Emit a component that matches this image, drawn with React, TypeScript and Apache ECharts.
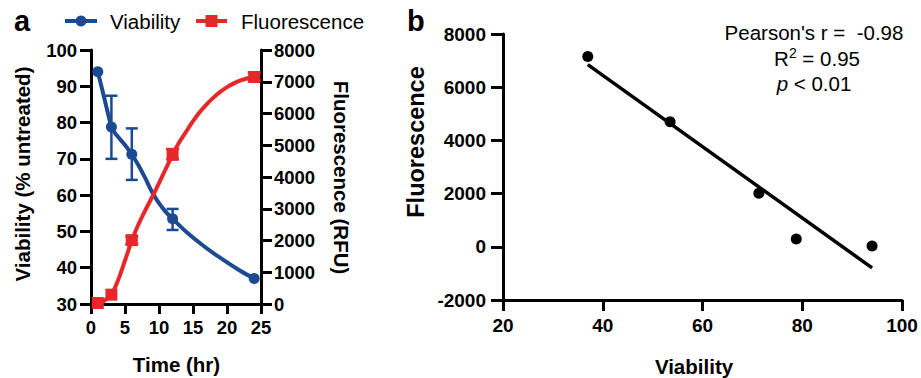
import React, { useEffect, useRef } from "react";
import * as echarts from "echarts";

const FONT = "'Liberation Sans', Arial, Helvetica, sans-serif";
const BLUE = "#1b4a92";
const RED = "#e6282b";

// Panel a: measured time course
const timeHours = [1, 3, 6, 12, 24];
const viability = [94, 78.8, 71.3, 53.5, 37];
const viabilityErrLow = [null, 70, 64.2, 50.4, null];
const viabilityErrHigh = [null, 87.4, 78.4, 56.2, null];
const fluorescence = [30, 293, 2011, 4700, 7150];
const fluorescenceErrLow = [null, null, 1890, 4560, 7040];
const fluorescenceErrHigh = [null, null, 2130, 4880, 7290];

// Panel a: fitted curves
const viabilityCurveT = [1, 1.5, 2, 2.5, 3, 3.5, 4, 5, 6, 7, 8, 9, 10, 11, 12, 14, 16, 18, 20, 22, 24];
const viabilityCurveV = [94, 90.2, 86.4, 82.5, 78.9, 77.2, 76.0, 73.8, 71.2, 68.2, 64.6, 60.8, 57.8, 55.4, 53.5, 49.9, 46.8, 44.0, 41.5, 39.1, 37];
const fluorCurveT = [1, 2, 3, 4, 5, 6, 7, 8, 9, 10, 11, 12, 13, 14, 15, 16, 17, 18, 19, 20, 21, 22, 23, 24];
const fluorCurveF = [20, 110, 300, 760, 1370, 2000, 2520, 2960, 3370, 3810, 4260, 4700, 5100, 5430, 5760, 6050, 6290, 6500, 6680, 6830, 6950, 7040, 7110, 7150];

const timeTicks = { min: 0, max: 25, interval: 5 };
const viabilityTicks = { min: 30, max: 100, interval: 10 };
const fluorTicks = { min: 0, max: 8000, interval: 1000 };

// Panel b: correlation
const corrXTicks = { min: 20, max: 100, interval: 20 };
const corrYTicks = { min: -2000, max: 8000, interval: 2000 };
const statsLines = ["Pearson's r =  -0.98", "0.95", "0.01"];
const legendNames = ["Viability", "Fluorescence"];

function linearFit(xs: number[], ys: number[]) {
  const n = xs.length;
  const mx = xs.reduce((a, b) => a + b, 0) / n;
  const my = ys.reduce((a, b) => a + b, 0) / n;
  let sxy = 0;
  let sxx = 0;
  for (let i = 0; i < n; i++) {
    sxy += (xs[i] - mx) * (ys[i] - my);
    sxx += (xs[i] - mx) * (xs[i] - mx);
  }
  const slope = sxy / sxx;
  return { slope, intercept: my - slope * mx };
}

function errorBarSeries(
  lows: (number | null)[],
  highs: (number | null)[],
  color: string,
  xAxisIndex: number,
  yAxisIndex: number,
  half: number
) {
  const data: number[][] = [];
  timeHours.forEach((t, i) => {
    const lo = lows[i];
    const hi = highs[i];
    if (lo != null && hi != null) data.push([t, lo, hi]);
  });
  return {
    type: "custom",
    xAxisIndex,
    yAxisIndex,
    z: 3,
    data,
    renderItem: (params: any, api: any) => {
      const x = api.value(0);
      const lo = api.coord([x, api.value(1)]);
      const hi = api.coord([x, api.value(2)]);
      const style = { stroke: color, lineWidth: 2.5, fill: null };
      return {
        type: "group",
        children: [
          { type: "line", shape: { x1: lo[0], y1: lo[1], x2: hi[0], y2: hi[1] }, style },
          { type: "line", shape: { x1: lo[0] - half, y1: lo[1], x2: lo[0] + half, y2: lo[1] }, style },
          { type: "line", shape: { x1: hi[0] - half, y1: hi[1], x2: hi[0] + half, y2: hi[1] }, style },
        ],
      };
    },
  };
}

function axisStyle(tickLen: number, margin: number, fontSize: number) {
  return {
    axisLine: { show: true, onZero: false, lineStyle: { color: "#000", width: 3 } },
    axisTick: { show: true, inside: false, length: tickLen, lineStyle: { color: "#000", width: 3 } },
    axisLabel: {
      margin,
      fontSize,
      fontWeight: "bold",
      color: "#000",
      fontFamily: FONT,
      formatter: (v: number) => String(v),
    },
    splitLine: { show: false },
  };
}

export default function App() {
  const ref = useRef<HTMLDivElement>(null);

  useEffect(() => {
    if (!ref.current) return;
    const chart = echarts.init(ref.current, undefined, { renderer: "svg" });

    const fit = linearFit(viability, fluorescence);
    const vMin = Math.min(...viability);
    const vMax = Math.max(...viability);
    const fitLine = [
      [vMin, fit.intercept + fit.slope * vMin],
      [vMax, fit.intercept + fit.slope * vMax],
    ];

    const text = (extra: any) => ({
      fill: "#000",
      fontFamily: FONT,
      ...extra,
    });

    const option: any = {
      animation: false,
      backgroundColor: "#fff",
      textStyle: { fontFamily: FONT },
      grid: [
        { left: 91, top: 50, width: 170, height: 254 },
        { left: 503, top: 34, width: 399, height: 266 },
      ],
      xAxis: [
        { gridIndex: 0, type: "value", ...timeTicks, ...axisStyle(10, 14, 18.5) },
        { gridIndex: 1, type: "value", ...corrXTicks, ...axisStyle(11, 16, 19) },
      ],
      yAxis: [
        { gridIndex: 0, type: "value", position: "left", ...viabilityTicks, ...axisStyle(11, 14, 18.5) },
        { gridIndex: 0, type: "value", position: "right", ...fluorTicks, ...axisStyle(11, 13, 18.5) },
        { gridIndex: 1, type: "value", position: "left", ...corrYTicks, ...axisStyle(12, 17, 19) },
      ],
      series: [
        errorBarSeries(viabilityErrLow, viabilityErrHigh, BLUE, 0, 0, 6),
        errorBarSeries(fluorescenceErrLow, fluorescenceErrHigh, RED, 0, 1, 6.5),
        {
          name: "Viability fit",
          type: "line",
          xAxisIndex: 0,
          yAxisIndex: 0,
          data: viabilityCurveT.map((t, i) => [t, viabilityCurveV[i]]),
          smooth: 0.3,
          symbol: "none",
          lineStyle: { color: BLUE, width: 4 },
          z: 3,
        },
        {
          name: "Fluorescence fit",
          type: "line",
          xAxisIndex: 0,
          yAxisIndex: 1,
          data: fluorCurveT.map((t, i) => [t, fluorCurveF[i]]),
          smooth: 0.3,
          symbol: "none",
          lineStyle: { color: RED, width: 4 },
          z: 3,
        },
        {
          name: "Viability",
          type: "scatter",
          xAxisIndex: 0,
          yAxisIndex: 0,
          data: timeHours.map((t, i) => [t, viability[i]]),
          symbol: "circle",
          symbolSize: 11,
          itemStyle: { color: BLUE, opacity: 1 },
          z: 4,
        },
        {
          name: "Fluorescence",
          type: "scatter",
          xAxisIndex: 0,
          yAxisIndex: 1,
          data: timeHours.map((t, i) => [t, fluorescence[i]]),
          symbol: "rect",
          symbolSize: 12,
          itemStyle: { color: RED, opacity: 1 },
          z: 4,
        },
        {
          name: "Correlation",
          type: "scatter",
          xAxisIndex: 1,
          yAxisIndex: 2,
          data: viability.map((v, i) => [v, fluorescence[i]]),
          symbol: "circle",
          symbolSize: 11,
          itemStyle: { color: "#000", opacity: 1 },
          z: 4,
        },
        {
          name: "Fit",
          type: "line",
          xAxisIndex: 1,
          yAxisIndex: 2,
          data: fitLine,
          symbol: "none",
          lineStyle: { color: "#000", width: 3.5 },
          z: 3,
        },
      ],
      graphic: [
        // legend
        { type: "line", shape: { x1: 65, y1: 21, x2: 97, y2: 21 }, style: { stroke: BLUE, lineWidth: 4 } },
        { type: "circle", shape: { cx: 81, cy: 21, r: 5.5 }, style: { fill: BLUE } },
        { type: "text", x: 110, y: 21, style: text({ text: legendNames[0], fontSize: 20.5, align: "left", verticalAlign: "middle" }) },
        { type: "line", shape: { x1: 196, y1: 21, x2: 227, y2: 21 }, style: { stroke: RED, lineWidth: 4 } },
        { type: "rect", shape: { x: 205.5, y: 15, width: 12, height: 12 }, style: { fill: RED } },
        { type: "text", x: 241, y: 21, style: text({ text: legendNames[1], fontSize: 20.5, align: "left", verticalAlign: "middle" }) },
        // panel letters
        { type: "text", left: 14, top: 6, style: text({ text: "a", fontSize: 29, fontWeight: "bold" }) },
        { type: "text", left: 407, top: 6, style: text({ text: "b", fontSize: 29, fontWeight: "bold" }) },
        // axis names
        {
          type: "text", x: 22, y: 174, rotation: Math.PI / 2,
          style: text({ text: "Viability (% untreated)", fontSize: 20.5, fontWeight: "bold", align: "center", verticalAlign: "middle" }),
        },
        {
          type: "text", x: 341.5, y: 177.5, rotation: -Math.PI / 2,
          style: text({ text: "Fluorescence (RFU)", fontSize: 20.5, fontWeight: "bold", align: "center", verticalAlign: "middle" }),
        },
        {
          type: "text", x: 176.5, y: 364,
          style: text({ text: "Time (hr)", fontSize: 20.5, fontWeight: "bold", align: "center", verticalAlign: "middle" }),
        },
        {
          type: "text", x: 416, y: 142, rotation: Math.PI / 2,
          style: text({ text: "Fluorescence", fontSize: 23.5, fontWeight: "bold", align: "center", verticalAlign: "middle" }),
        },
        {
          type: "text", x: 694, y: 366,
          style: text({ text: "Viability", fontSize: 20.5, fontWeight: "bold", align: "center", verticalAlign: "middle" }),
        },
        // statistics
        {
          type: "text", x: 814, y: 32,
          style: text({ text: statsLines[0], fontSize: 20.5, align: "center", verticalAlign: "middle" }),
        },
        {
          type: "text", x: 817, y: 58,
          style: text({
            text: "R{sup|2} = " + statsLines[1],
            fontSize: 20.5, align: "center", verticalAlign: "middle",
            rich: { sup: { fontSize: 14, fontFamily: FONT, fill: "#000", padding: [0, 0, 10, 0] } },
          }),
        },
        {
          type: "text", x: 814, y: 83,
          style: text({
            text: "{i|p} < " + statsLines[2],
            fontSize: 20.5, align: "center", verticalAlign: "middle",
            rich: { i: { fontSize: 20.5, fontStyle: "italic", fontFamily: FONT, fill: "#000" } },
          }),
        },
      ],
    };

    chart.setOption(option);
    return () => chart.dispose();
  }, []);

  return (
    <div
      ref={ref}
      style={{ position: "fixed", left: 0, top: 0, width: 921, height: 378, background: "#fff" }}
    />
  );
}
